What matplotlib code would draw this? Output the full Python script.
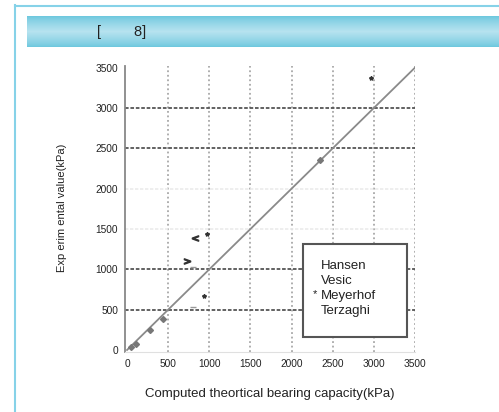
import numpy as np
import matplotlib.pyplot as plt
from matplotlib.lines import Line2D

plt.rcParams['font.family'] = ['Liberation Sans', 'DejaVu Sans']

# values
ticks = [0, 500, 1000, 1500, 2000, 2500, 3000, 3500]
line_x = [0, 3500]
line_y = [0, 3500]

hansen_x = [50, 110, 280, 440, 2350]
hansen_y = [40, 80, 250, 390, 2350]

vesic_x = [830, 730]
vesic_y = [1390, 1100]
vesic_marks = ['$<$', '$>$']

meyerhof_x = [2970, 970, 935]
meyerhof_y = [3370, 1440, 670]

terzaghi_x = [800, 800]
terzaghi_y = [1030, 530]

legend_names = ['Hansen', 'Vesic', 'Meyerhof', 'Terzaghi']

W, H = 499, 412
fig = plt.figure(figsize=(W / 100, H / 100), dpi=100)
fig.patch.set_facecolor('white')

# page frame lines
fig.add_artist(Line2D([14.5 / W, 14.5 / W], [0, 1 - 5 / H], color='#86d2e8', lw=1.5))
fig.add_artist(Line2D([14.5 / W, 1], [1 - 5.5 / H, 1 - 5.5 / H], color='#86d2e8', lw=1.5))

# header band with vertical gradient (dark edges, light middle)
hax = fig.add_axes([27 / W, 1 - 47 / H, 1 - 27 / W, 31 / H])
t = np.linspace(0, 1, 64)
grad = np.clip(1 - np.abs(t - 0.5) / 0.5, 0, 1) ** 0.8
c_dark = np.array([0.42, 0.78, 0.87])
c_light = np.array([0.72, 0.89, 0.94])
img = c_dark[None, :] + (c_light - c_dark)[None, :] * grad[:, None]
hax.imshow(img[:, None, :], aspect='auto', origin='upper', extent=[0, 1, 0, 1],
           interpolation='nearest')
hax.set_axis_off()
fig.text(97 / W, 1 - 32 / H, '[        8]', fontsize=10.5, color='#222222', va='center')

ax = fig.add_axes([125 / W, 1 - 352 / H, (415 - 125) / W, (352 - 66) / H])
ax.set_xlim(-25, 3500)
ax.set_ylim(-25, 3520)

for v in ticks[1:]:
    ax.axvline(v, color='#a8a8a8', lw=1.3, ls=(0, (1, 1.5)), zorder=1)
for v in [500, 1000, 2500, 3000]:
    ax.axhline(v, color='#555555', lw=1.3, ls=(0, (2, 1)), zorder=1)
for v in [1500, 2000]:
    ax.axhline(v, color='#ebebeb', lw=1.2, ls=(0, (2, 1)), zorder=1)

ax.plot(line_x, line_y, color='#8a8a8a', lw=1.3, zorder=2)
ax.plot(hansen_x, hansen_y, ls='none', marker='D', ms=3, color='#777777', zorder=3)
for x, y, m in zip(vesic_x, vesic_y, vesic_marks):
    ax.plot(x, y, ls='none', marker=m, ms=4.5, color='#333333', zorder=3)
ax.plot(meyerhof_x, meyerhof_y, ls='none', marker='*', ms=3, color='#333333', zorder=3)
ax.plot(terzaghi_x, terzaghi_y, ls='none', marker='_', ms=5, color='#999999', zorder=3)

for s in ['top', 'right']:
    ax.spines[s].set_visible(False)
ax.spines['bottom'].set_color('#e0e0e0')
ax.spines['left'].set_color('#888888')
ax.spines['left'].set_linewidth(1.3)
ax.set_xticks(ticks)
ax.set_yticks(ticks)
ax.tick_params(length=0, labelsize=7.3, colors='#222222', pad=5)

ax.set_xlabel('Computed theortical bearing capacity(kPa)', fontsize=9.5,
              color='#222222', labelpad=14)
fig.text(62 / W, 1 - 208 / H, 'Exp erim ental value(kPa)', rotation=90,
         fontsize=8, color='#222222', ha='center', va='center')

# legend box
box = plt.Rectangle((303 / W, 1 - 337 / H), 104 / W, 93 / H, transform=fig.transFigure,
                    facecolor='white', edgecolor='#555555', lw=1.5, zorder=5)
fig.add_artist(box)
for i, name in enumerate(legend_names):
    y = 1 - (266 + 15 * i) / H
    fig.text(321 / W, y, name, fontsize=9.5, color='#222222', va='center', zorder=6)
fig.text(313 / W, 1 - 294 / H, '*', fontsize=8, color='#222222', va='center', zorder=6)

fig.savefig('out.png', dpi=100)
